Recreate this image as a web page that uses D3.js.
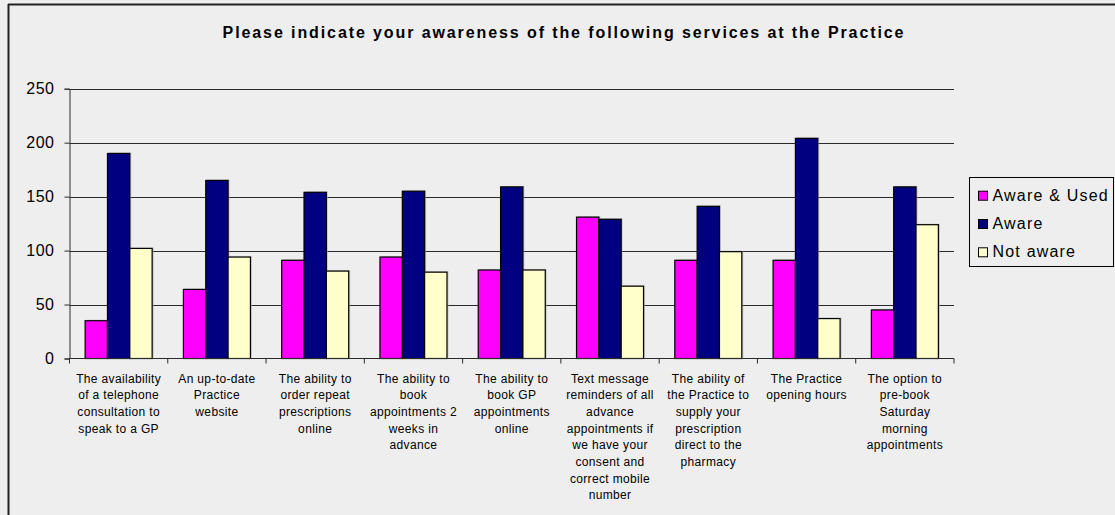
<!DOCTYPE html>
<html>
<head>
<meta charset="utf-8">
<script src="https://cdn.jsdelivr.net/npm/d3@7"></script>
<style>
  html, body { margin: 0; padding: 0; background: #eeeeee; }
  svg { display: block; font-family: "Liberation Sans", Arial, sans-serif; }
</style>
</head>
<body>
<svg id="chart" width="1115" height="515"></svg>
<script>
// Survey categories (line breaks mark the wrapped label lines)
const categories = [
  "The availability\nof a telephone\nconsultation to\nspeak to a GP",
  "An up-to-date\nPractice\nwebsite",
  "The ability to\norder repeat\nprescriptions\nonline",
  "The ability to\nbook\nappointments 2\nweeks in\nadvance",
  "The ability to\nbook GP\nappointments\nonline",
  "Text message\nreminders of all\nadvance\nappointments if\nwe have your\nconsent and\ncorrect mobile\nnumber",
  "The ability of\nthe Practice to\nsupply your\nprescription\ndirect to the\npharmacy",
  "The Practice\nopening hours",
  "The option to\npre-book\nSaturday\nmorning\nappointments"
];
const seriesNames = ["Aware & Used", "Aware", "Not aware"];
const awareUsed = [35, 64, 91, 94, 82, 131, 91, 91, 45];
const aware     = [190, 165, 154, 155, 159, 129, 141, 204, 159];
const notAware  = [102, 94, 81, 80, 82, 67, 99, 37, 124];
const yTicks = [0, 50, 100, 150, 200, 250];
const seriesColors = ["#ff00ff", "#000080", "#ffffcc"];
const title = "Please indicate your awareness of the following services at the Practice";

const seriesValues = [awareUsed, aware, notAware];
const svg = d3.select("#chart");

// Outer frame (top and left edges visible)
svg.append("line").attr("x1", 8).attr("x2", 1115).attr("y1", 4.5).attr("y2", 4.5)
  .attr("stroke", "#222").attr("stroke-width", 2);
svg.append("line").attr("x1", 8.5).attr("x2", 8.5).attr("y1", 4).attr("y2", 515)
  .attr("stroke", "#222").attr("stroke-width", 2);

// Title
svg.append("text")
  .attr("x", 564).attr("y", 38)
  .attr("text-anchor", "middle")
  .attr("font-size", 16).attr("font-weight", "bold")
  .attr("letter-spacing", 1.9)
  .attr("fill", "#000")
  .text(title);

const plotLeft = 69.5, plotRight = 954, plotTop = 88.7, plotBottom = 358.5;

const x0 = d3.scaleBand().domain(d3.range(categories.length)).range([plotLeft, plotRight]).padding(0);
const x1 = d3.scaleBand().domain(d3.range(seriesNames.length)).range([0, x0.bandwidth()])
  .paddingInner(0).paddingOuter(0.7);
const y = d3.scaleLinear().domain([0, 250]).range([plotBottom, plotTop]);

// Gridlines
svg.append("g").selectAll("line").data(yTicks.filter(t => t > 0)).join("line")
  .attr("x1", plotLeft).attr("x2", plotRight)
  .attr("y1", d => Math.round(y(d)) + 0.5).attr("y2", d => Math.round(y(d)) + 0.5)
  .attr("stroke", "#2a2a2a").attr("stroke-width", 1);

// Bars
const groups = svg.append("g").selectAll("g").data(categories).join("g")
  .attr("transform", (d, i) => `translate(${x0(i)},0)`);

groups.each(function(c, i) {
  const g = d3.select(this);
  const vals = seriesValues.map((s, k) => ({ k, v: s[i] }));
  // soft shadow behind each bar
  g.selectAll("rect.shadow").data(vals).join("rect")
    .attr("class", "shadow")
    .attr("x", d => x1(d.k) + 1.5)
    .attr("y", d => y(d.v) - 1)
    .attr("width", x1.bandwidth())
    .attr("height", d => plotBottom - y(d.v))
    .attr("fill", "#aaaaaa").attr("opacity", 0.6);
  g.selectAll("rect.bar").data(vals).join("rect")
    .attr("class", "bar")
    .attr("x", d => x1(d.k))
    .attr("y", d => y(d.v))
    .attr("width", x1.bandwidth())
    .attr("height", d => plotBottom - y(d.v))
    .attr("fill", d => seriesColors[d.k])
    .attr("stroke", "#000").attr("stroke-width", 1.2);
});

// Y axis
const yAxis = d3.axisLeft(y).tickValues(yTicks).tickSize(5).tickPadding(10);
const yg = svg.append("g").attr("transform", `translate(${plotLeft},0)`).call(yAxis);
yg.select(".domain").attr("stroke", "#2a2a2a");
yg.selectAll(".tick line").attr("stroke", "#2a2a2a");
yg.selectAll(".tick text").attr("font-size", 16).attr("letter-spacing", 0.5)
  .attr("font-family", "Liberation Sans, Arial, sans-serif").attr("fill", "#000");

// X axis baseline and category boundary ticks
svg.append("line").attr("x1", plotLeft).attr("x2", plotRight)
  .attr("y1", plotBottom).attr("y2", plotBottom).attr("stroke", "#2a2a2a");
const bounds = d3.range(categories.length).map(i => x0(i)).concat([plotRight]);
svg.append("g").selectAll("line").data(bounds).join("line")
  .attr("x1", d => d).attr("x2", d => d)
  .attr("y1", plotBottom).attr("y2", plotBottom + 5)
  .attr("stroke", "#2a2a2a");

// Category labels
svg.append("g").selectAll("text").data(categories).join("text")
  .attr("x", (d, i) => x0(i) + x0.bandwidth() / 2)
  .attr("y", 382.5)
  .attr("text-anchor", "middle")
  .attr("font-size", 12).attr("letter-spacing", 0.35)
  .attr("fill", "#000")
  .each(function(d) {
    const t = d3.select(this);
    const cx = t.attr("x");
    d.split("\n").forEach((line, j) => {
      t.append("tspan").attr("x", cx).attr("dy", j === 0 ? 0 : 16.7).text(line);
    });
  });

// Legend
const lg = svg.append("g");
lg.append("rect").attr("x", 969.5).attr("y", 177.5).attr("width", 144).attr("height", 89)
  .attr("fill", "#eeeeee").attr("stroke", "#000").attr("stroke-width", 1);
const items = lg.selectAll("g.item").data(seriesNames).join("g").attr("class", "item")
  .attr("transform", (d, i) => `translate(978,${200.7 + i * 28.3})`);
items.append("rect").attr("x", 0.5).attr("y", -9.5).attr("width", 9).attr("height", 9)
  .attr("fill", (d, i) => seriesColors[i]).attr("stroke", "#000").attr("stroke-width", 1);
items.append("text").attr("x", 14.5).attr("y", 0)
  .attr("font-size", 16).attr("letter-spacing", 1.2).attr("fill", "#000")
  .text(d => d);
</script>
</body>
</html>
